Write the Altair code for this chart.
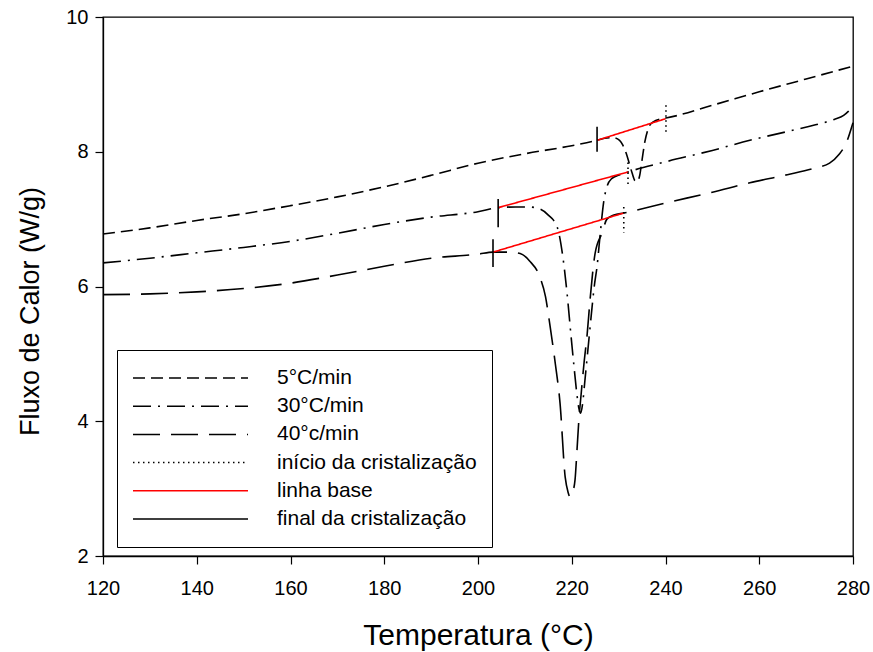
import altair as alt
import pandas as pd

# ---- legend / series names ----
names = ["5°C/min", "30°C/min", "40°c/min", "início da cristalização", "linha base", "final da cristalização"]
colors = ["black", "black", "black", "black", "#ff0000", "black"]
dashes = [[12, 6], [18, 7, 2, 7], [27, 11], [1.5, 3.5], [1, 0], [1, 0]]

# ---- DSC curves ----
t5 = [120, 130, 140, 150, 160, 170, 180, 190, 200, 210, 220, 225.4, 227, 228.8, 230.2, 230.9, 231.6, 232.3,
      232.9, 233.5, 234.0, 234.5, 235.0, 235.6, 236.3, 237.3, 239.3, 240.1, 250, 260, 270, 280]
f5 = [6.78, 6.87, 6.98, 7.08, 7.2, 7.33, 7.48, 7.65, 7.83, 7.97, 8.09, 8.17, 8.2, 8.21, 8.17, 8.1, 7.98, 7.82,
      7.68, 7.57, 7.56, 7.65, 7.88, 8.15, 8.34, 8.44, 8.49, 8.5, 8.69, 8.89, 9.08, 9.27]

t30 = [120, 130, 140, 150, 160, 170, 180, 190, 200, 204.3, 208, 211, 213.2, 215, 216.9, 218.1, 219.0, 219.8,
       220.5, 221.1, 221.5, 221.9, 222.3, 222.8, 223.5, 224.2, 224.8, 225.4, 226.1, 226.8, 227.5, 228.5, 230.3,
       232.0, 240, 250, 258, 266, 272, 276, 278, 279, 280]
f30 = [6.35, 6.42, 6.5, 6.58, 6.67, 6.79, 6.92, 7.03, 7.11, 7.17, 7.18, 7.18, 7.15, 7.06, 6.88, 6.44, 5.9, 5.3,
       4.8, 4.4, 4.2, 4.12, 4.25, 4.6, 5.1, 5.6, 6.0, 6.3, 6.8, 7.25, 7.48, 7.6, 7.66,
       7.7, 7.85, 8.02, 8.17, 8.3, 8.4, 8.48, 8.54, 8.6, 8.68]

t40 = [120, 130, 140, 150, 160, 170, 180, 190, 200, 203.2, 206.8, 209.0, 211, 213.2, 214.4, 215.4, 216.5, 217.5,
       218.6, 219.2, 219.6, 220.1, 220.7, 221.1, 221.5, 222.0, 222.6, 223.3, 223.9, 225.0, 226.5, 227.5, 229,
       231.1, 240, 250, 258, 266, 272, 275, 277, 278.5, 280]
f40 = [5.88, 5.89, 5.92, 5.97, 6.05, 6.17, 6.3, 6.42, 6.48, 6.51, 6.51, 6.49, 6.38, 6.14, 5.85, 5.4, 4.85, 4.27,
       3.17, 2.95, 2.88, 2.93, 3.13, 3.55, 4.0, 4.4, 4.85, 5.3, 5.8, 6.5, 6.8, 7.0, 7.06,
       7.09, 7.24, 7.4, 7.54, 7.66, 7.76, 7.83, 7.96, 8.12, 8.43]

# ---- baselines (red) ----
base_t0 = [225.4, 204.3, 203.2]
base_f0 = [8.17, 7.17, 6.51]
base_t1 = [240.0, 232.0, 231.1]
base_f1 = [8.49, 7.70, 7.09]

# ---- solid vertical markers ("final da cristalização") ----
fin_t = [225.4, 204.3, 203.2]
fin_top = [8.37, 7.30, 6.70]
fin_bot = [8.00, 6.88, 6.29]

# ---- dotted vertical markers ("início da cristalização") ----
ini_t = [240.1, 232.0, 231.1]
ini_top = [8.69, 7.84, 7.18]
ini_bot = [8.28, 7.48, 6.80]

# ---- axis ticks ----
x_ticks = [120, 140, 160, 180, 200, 220, 240, 260, 280]
y_ticks = [2, 4, 6, 8, 10]

rows = []
for name, ts, fs in [(names[0], t5, f5), (names[1], t30, f30), (names[2], t40, f40)]:
    for i, (t, f) in enumerate(zip(ts, fs)):
        rows.append(dict(serie=name, seg=name, x=t, y=f, ord=i))
curves = pd.DataFrame(rows)

rows = []
for k in range(3):
    rows.append(dict(serie=names[4], seg=f"b{k}", x=base_t0[k], y=base_f0[k], ord=0))
    rows.append(dict(serie=names[4], seg=f"b{k}", x=base_t1[k], y=base_f1[k], ord=1))
    rows.append(dict(serie=names[5], seg=f"s{k}", x=fin_t[k], y=fin_top[k], ord=0))
    rows.append(dict(serie=names[5], seg=f"s{k}", x=fin_t[k], y=fin_bot[k], ord=1))
    rows.append(dict(serie=names[3], seg=f"e{k}", x=ini_t[k], y=ini_top[k], ord=0))
    rows.append(dict(serie=names[3], seg=f"e{k}", x=ini_t[k], y=ini_bot[k], ord=1))
segs = pd.DataFrame(rows)

FONT = "Liberation Sans"

leg = alt.Legend(
    title=None, orient="none", legendX=14, legendY=333,
    symbolType="stroke", symbolSize=13225, symbolStrokeWidth=1.5,
    labelFontSize=21, labelFont=FONT, labelColor="black", labelOffset=28, labelLimit=500,
    padding=15, strokeColor="black", fillColor="white", clipHeight=26, rowPadding=2.2,
)

xenc = alt.X("x:Q", scale=alt.Scale(domain=[120, 280], nice=False, zero=False),
             axis=alt.Axis(values=x_ticks, title="Temperatura (°C)", labelFlush=False,
                           labelPadding=14, titlePadding=22, titleFontSize=30))
yenc = alt.Y("y:Q", scale=alt.Scale(domain=[2, 10], nice=False, zero=False),
             axis=alt.Axis(values=y_ticks, title="Fluxo de Calor (W/g)", labelFlush=False,
                           labelPadding=7, titlePadding=21, titleFontSize=27, titleY=294))
cenc = alt.Color("serie:N", scale=alt.Scale(domain=names, range=colors), legend=leg)
denc = alt.StrokeDash("serie:N", scale=alt.Scale(domain=names, range=dashes), legend=leg)

curve_layer = alt.Chart(curves).mark_line(interpolate="monotone", strokeWidth=1.6).encode(
    x=xenc, y=yenc, color=cenc, strokeDash=denc, detail="seg:N", order="ord:Q")
seg_layer = alt.Chart(segs).mark_line(strokeWidth=1.6).encode(
    x=xenc, y=yenc, color=cenc, strokeDash=denc, detail="seg:N", order="ord:Q")

chart = alt.layer(curve_layer, seg_layer).properties(
    width=750, height=539,
    autosize=alt.AutoSizeParams(type="none"),
    padding={"left": 103, "top": 17, "right": 20, "bottom": 96},
).configure_view(stroke="black", strokeWidth=1.3).configure_axis(
    grid=False, domainColor="black", domainWidth=1.3, tickColor="black", tickSize=8, tickWidth=1.2,
    labelFont=FONT, labelFontSize=20, labelColor="black",
    titleFont=FONT, titleFontWeight="normal", titleColor="black",
)

chart.save("out.html", embed_options={"renderer": "svg", "actions": False})
